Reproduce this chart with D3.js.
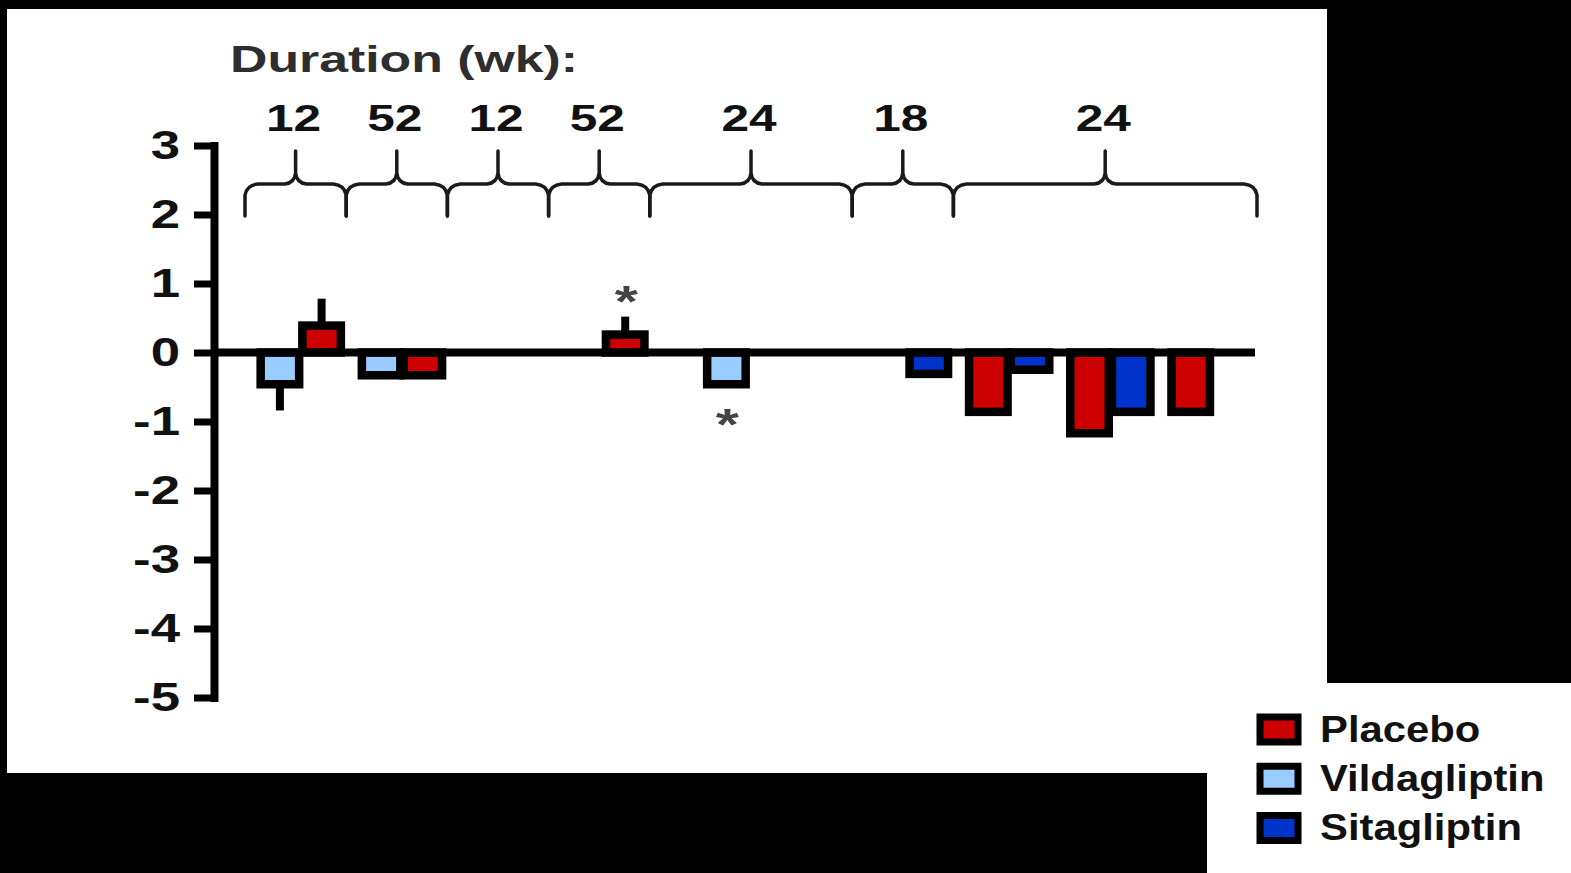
<!DOCTYPE html>
<html>
<head>
<meta charset="utf-8">
<script src="https://cdn.jsdelivr.net/npm/d3@7"></script>
<style>
  html, body { margin: 0; padding: 0; background: #000; }
  svg { display: block; }
  text { font-family: "Liberation Sans", Arial, Helvetica, sans-serif; font-weight: bold; }
</style>
</head>
<body>
<svg id="chart" width="1571" height="873"></svg>
<script>
// ---------------- DATA ----------------
const series = ["Placebo", "Vildagliptin", "Sitagliptin"];
const seriesColors = ["#cc0000", "#99ccff", "#0033cc"];

// one column per study, left to right
const studies = ["Study 1", "Study 2", "Study 3", "Study 4", "Study 5", "Study 6", "Study 7", "Study 8", "Study 9", "Study 10"];

// bracket labels (duration in weeks) and number of study columns each bracket covers
const durations = ["12", "52", "12", "52", "24", "18", "24"];
const durationStudyCount = [1, 1, 1, 1, 2, 1, 3];

// first arm of each study
const arm1Drug  = ["Vildagliptin", "Vildagliptin", null, null, null, null, null, "Placebo", "Placebo", "Placebo"];
const arm1Value = [-0.46, -0.33, null, null, null, null, null, -0.86, -1.17, -0.86];
const arm1ErrEnd = [-0.84, null, null, null, null, null, null, null, null, null];
const arm1Sig   = [false, false, false, false, false, false, false, false, false, false];

// second arm of each study
const arm2Drug  = ["Placebo", "Placebo", null, "Placebo", "Vildagliptin", null, "Sitagliptin", "Sitagliptin", "Sitagliptin", null];
const arm2Value = [0.39, -0.33, null, 0.26, -0.46, null, -0.31, -0.25, -0.86, null];
const arm2ErrEnd = [0.78, null, null, 0.52, null, null, null, null, null, null];
const arm2Sig   = [false, false, false, true, true, false, false, false, false, false];

const yTicks = [3, 2, 1, 0, -1, -2, -3, -4, -5];
const titleText = "Duration (wk):";

// ---------------- DRAWING ----------------
const svg = d3.select("#chart");

// white panels
svg.append("rect").attr("x", 7).attr("y", 9).attr("width", 1320).attr("height", 764).attr("fill", "#fff");
svg.append("rect").attr("x", 1207).attr("y", 683).attr("width", 364).attr("height", 190).attr("fill", "#fff");

const y = d3.scaleLinear().domain([-5, 3]).range([697.5, 145.5]);
const col = d3.scaleBand().domain(studies).range([245, 1257]).padding(0);
const arm = d3.scaleOrdinal().domain(["arm1", "arm2"]).range([0.345, 0.757]);
const color = d3.scaleOrdinal().domain(series).range(seriesColors);

const barW = 38.5;
const axisX = 214;

function stretchedText(g, x, yy, str, size, sx, anchor, fill) {
  return g.append("text")
    .attr("transform", `translate(${x},${yy}) scale(${sx},1)`)
    .attr("text-anchor", anchor)
    .attr("font-size", size)
    .attr("fill", fill)
    .text(str);
}

// title
stretchedText(svg, 230, 72, titleText, 37, 1.4, "start", "#2e2e2e");

// brackets
const bracketG = svg.append("g");
let startIdx = 0;
durations.forEach((d, i) => {
  const n = durationStudyCount[i];
  const x0 = col(studies[startIdx]);
  const x1 = col(studies[startIdx + n - 1]) + col.bandwidth();
  startIdx += n;
  const xm = (x0 + x1) / 2;
  const yH = 184, yE = 216, yT = 151, r = 11;
  const p = d3.path();
  p.moveTo(x0, yE); p.lineTo(x0, yH + r); p.quadraticCurveTo(x0 + 2, yH + 1, x0 + r + 2, yH);
  p.lineTo(xm - r, yH); p.quadraticCurveTo(xm - 1, yH - 1, xm, yH - r); p.lineTo(xm, yT);
  p.moveTo(x1, yE); p.lineTo(x1, yH + r); p.quadraticCurveTo(x1 - 2, yH + 1, x1 - r - 2, yH);
  p.lineTo(xm + r, yH); p.quadraticCurveTo(xm + 1, yH - 1, xm, yH - r);
  bracketG.append("path").attr("d", p.toString())
    .attr("fill", "none").attr("stroke", "#1a1a1a").attr("stroke-width", 3.5)
    .attr("stroke-linejoin", "round").attr("stroke-linecap", "round");
  stretchedText(svg, xm - 2, 131, d, 37, 1.34, "middle", "#111");
});

// bars
const bars = [];
studies.forEach((s, i) => {
  if (arm1Drug[i]) bars.push({ study: s, arm: "arm1", drug: arm1Drug[i], value: arm1Value[i], err: arm1ErrEnd[i], sig: arm1Sig[i] });
  if (arm2Drug[i]) bars.push({ study: s, arm: "arm2", drug: arm2Drug[i], value: arm2Value[i], err: arm2ErrEnd[i], sig: arm2Sig[i] });
});
const cx = d => col(d.study) + col.bandwidth() * arm(d.arm);

const barG = svg.append("g");
barG.selectAll("rect").data(bars).join("rect")
  .attr("x", d => cx(d) - barW / 2)
  .attr("width", barW)
  .attr("y", d => Math.min(y(0), y(d.value)))
  .attr("height", d => Math.abs(y(d.value) - y(0)))
  .attr("fill", d => color(d.drug))
  .attr("stroke", "#000").attr("stroke-width", 8.5);

// zero line
svg.append("line").attr("x1", axisX).attr("x2", col.range()[1] - 2)
  .attr("y1", y(0)).attr("y2", y(0)).attr("stroke", "#000").attr("stroke-width", 8);

// error bars
svg.append("g").selectAll("line").data(bars.filter(d => d.err != null)).join("line")
  .attr("x1", d => cx(d)).attr("x2", d => cx(d))
  .attr("y1", d => y(d.value)).attr("y2", d => y(d.err))
  .attr("stroke", "#000").attr("stroke-width", 8);

// significance asterisks
const sigG = svg.append("g");
bars.filter(d => d.sig).forEach(d => {
  const top = d.value >= 0 ? y(d.err != null ? d.err : d.value) - 25 : y(d.value) + 31;
  stretchedText(sigG, cx(d) + 1, top + 25, "*", 44, 1.35, "middle", "#444");
});

// y axis
const yAxisG = svg.append("g").attr("transform", `translate(${axisX},0)`)
  .call(d3.axisLeft(y).tickValues(yTicks).tickSize(20).tickSizeOuter(0).tickPadding(14).tickFormat(d => String(d)));
yAxisG.select(".domain").attr("stroke", "#000").attr("stroke-width", 8).attr("stroke-linecap", "square");
yAxisG.selectAll(".tick line").attr("stroke", "#000").attr("stroke-width", 7);
yAxisG.selectAll(".tick text")
  .attr("x", 0)
  .attr("transform", "translate(-34,0) scale(1.32,1)")
  .attr("font-size", 40)
  .attr("font-family", "'Liberation Sans', Arial, sans-serif")
  .attr("font-weight", "bold")
  .attr("fill", "#111");

// legend
const legY = d3.scalePoint().domain(series).range([729.5, 828]);
const legG = svg.append("g");
series.forEach(s => {
  legG.append("rect").attr("x", 1260).attr("y", legY(s) - 12.5).attr("width", 38).attr("height", 25)
    .attr("fill", color(s)).attr("stroke", "#000").attr("stroke-width", 7);
  stretchedText(legG, 1320, legY(s) + 12, s, 37, 1.13, "start", "#111");
});
</script>
</body>
</html>
